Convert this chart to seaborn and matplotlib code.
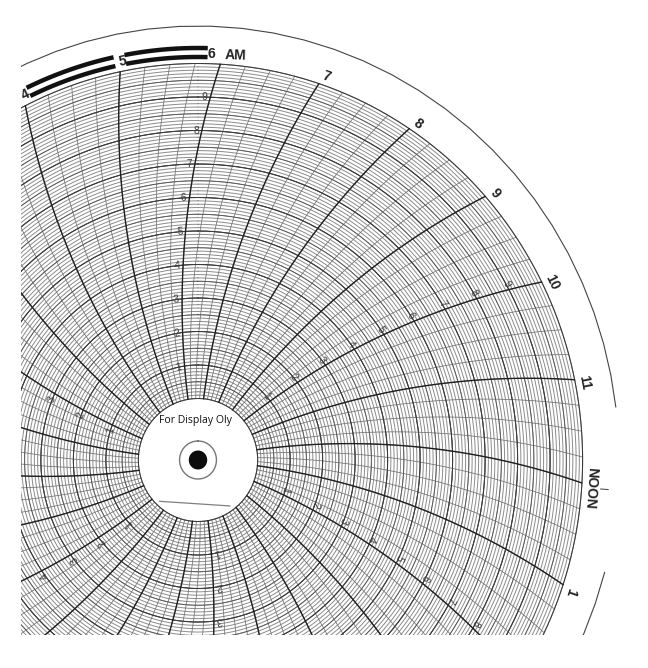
import numpy as np
import pandas as pd
import matplotlib.pyplot as plt
from matplotlib.patches import Rectangle
import seaborn as sns

# chart ruling
hour_labels = ['4', '5', '6', '7', '8', '9', '10', '11', 'NOON', '1']
hour_values = [4, 5, 6, 7, 8, 9, 10, 11, 12, 13]
scale_labels = ['1', '2', '3', '4', '5', '6', '7', '8', '9']
scale_values = [1, 2, 3, 4, 5, 6, 7, 8, 9]
scale_hours = [2, 6, 10, 14, 18, 22]
fine_rings = np.arange(0, 101) / 10
half_rings = np.arange(1, 20) / 2
whole_rings = np.arange(0, 11)
quarter_hours = np.arange(0, 96) / 4
full_hours = np.arange(0, 24)

sns.set_theme(style='white')
plt.rcParams['font.family'] = ['Liberation Sans', 'DejaVu Sans']

W, H = 648, 668
CX, CY = 198, 460
PX_RING = 33.5        # pixels per scale unit (vertical)
HUB = 61.5            # hub radius, pixels
X_SQUEEZE = 0.97      # the scan is slightly narrower than it is tall
R_AX = 440
CROP_LEFT, CROP_BOTTOM = 21, 635


def px_to_v(r):
    return (r - HUB) / PX_RING


def twist(v):
    # time lines are arcs, the offset grows going outwards
    r = HUB + PX_RING * np.asarray(v, dtype=float)
    return np.degrees(np.arcsin(r / 1500)) - 12


def hour_theta(h, v):
    return np.radians(15 * (h - 6) + twist(v))


def ring_frame(values):
    th = np.radians(np.linspace(0, 360, 541))
    parts = [pd.DataFrame({'line': i, 'theta': th, 'v': v}) for i, v in enumerate(values)]
    return pd.concat(parts, ignore_index=True)


def radial_frame(hours):
    vs = np.linspace(0, 10, 41)
    parts = [pd.DataFrame({'line': i, 'theta': hour_theta(h, vs), 'v': vs}) for i, h in enumerate(hours)]
    return pd.concat(parts, ignore_index=True)


def arc_frame(start, stop, v):
    th = np.radians(np.linspace(start, stop, 80))
    return pd.DataFrame({'line': 0, 'theta': th, 'v': v})


def draw(df, color, lw, **kw):
    sns.lineplot(data=df, x='theta', y='v', units='line', estimator=None, sort=False,
                 color=color, linewidth=lw, legend=False, ax=ax, **kw)


fig = plt.figure(figsize=(W / 100, H / 100), dpi=100, facecolor='white')
ax_w = 2 * R_AX * X_SQUEEZE
ax = fig.add_axes([(CX - R_AX * X_SQUEEZE) / W, (H - CY - R_AX) / H, ax_w / W, 2 * R_AX / H],
                  projection='polar')
ax.set_theta_zero_location('N')
ax.set_theta_direction(-1)
ax.set_aspect('auto')

draw(ring_frame(fine_rings), '#8c8c8c', 0.7)
draw(radial_frame(quarter_hours), '#707070', 0.55)
draw(ring_frame(half_rings), '#555555', 0.6)
draw(ring_frame(whole_rings), '#3a3a3a', 0.75)
draw(radial_frame(full_hours), '#202020', 1.0)

# outer rim, open around the NOON mark
rim = px_to_v(434)
draw(arc_frame(105, 443, rim), '#444444', 0.8)
draw(pd.DataFrame({'line': 0, 'theta': np.radians([94, 94]), 'v': [px_to_v(416), px_to_v(424)]}), '#555555', 0.8)

# double night bars between 4, 5 and 6
for r in [403, 412]:
    draw(arc_frame(-25.4, -12.2, px_to_v(r)), '#111111', 3.2, solid_capstyle='butt')
    draw(arc_frame(-10.6, 1.4, px_to_v(r)), '#111111', 3.2, solid_capstyle='butt')

# hub: ring, dot and the short pen line
draw(ring_frame([px_to_v(19)]), '#777777', 1.0)
dot_th = np.radians(np.linspace(0, 360, 73))
ax.fill(dot_th, np.full(73, px_to_v(9.5)), color='#0c0c0c', lw=0)
draw(pd.DataFrame({'line': 0, 'theta': np.radians([224, 144.3]), 'v': [px_to_v(57.4), px_to_v(56.6)]}), '#808080', 0.9)

for label, h in zip(hour_labels, hour_values):
    th = 15 * (h - 6) + (2 if label == '6' else 4)
    ax.text(np.radians(th), px_to_v(406), label, fontsize=10, fontweight='bold', color='#222222',
            rotation=-th if label != '6' else 0, rotation_mode='anchor', ha='center', va='center')
ax.text(np.radians(5.4), px_to_v(406), 'AM', fontsize=10, fontweight='bold', color='#222222',
        rotation=-2, rotation_mode='anchor', ha='center', va='center')

for h in scale_hours:
    for label, v in zip(scale_labels, scale_values):
        r = HUB + PX_RING * v
        th = 15 * (h - 6) + twist(v) - np.degrees(6 / r)
        # labels past the crop of the scan are not shown
        px = CX + r * X_SQUEEZE * np.sin(np.radians(th))
        py = CY - r * np.cos(np.radians(th))
        if px < CROP_LEFT + 6 or py > CROP_BOTTOM - 6:
            continue
        ax.text(np.radians(th), v, label, fontsize=7.5, color='#3a3a3a',
                rotation=-th, rotation_mode='anchor', ha='center', va='center')

ax.text(np.radians(-4), px_to_v(40), 'For Display Oly', fontsize=7.6, color='#111111',
        family='Open Sans', ha='center', va='center')

ax.set_ylim(-HUB / PX_RING, px_to_v(R_AX))
ax.set_axis_off()

# the scan is cropped on the left and at the bottom
fig.add_artist(Rectangle((0, 0), CROP_LEFT / W, 1, transform=fig.transFigure, color='white', zorder=20, lw=0))
fig.add_artist(Rectangle((0, 0), 1, (H - CROP_BOTTOM) / H, transform=fig.transFigure, color='white', zorder=20, lw=0))

fig.savefig('out.png', dpi=100, facecolor='white')
